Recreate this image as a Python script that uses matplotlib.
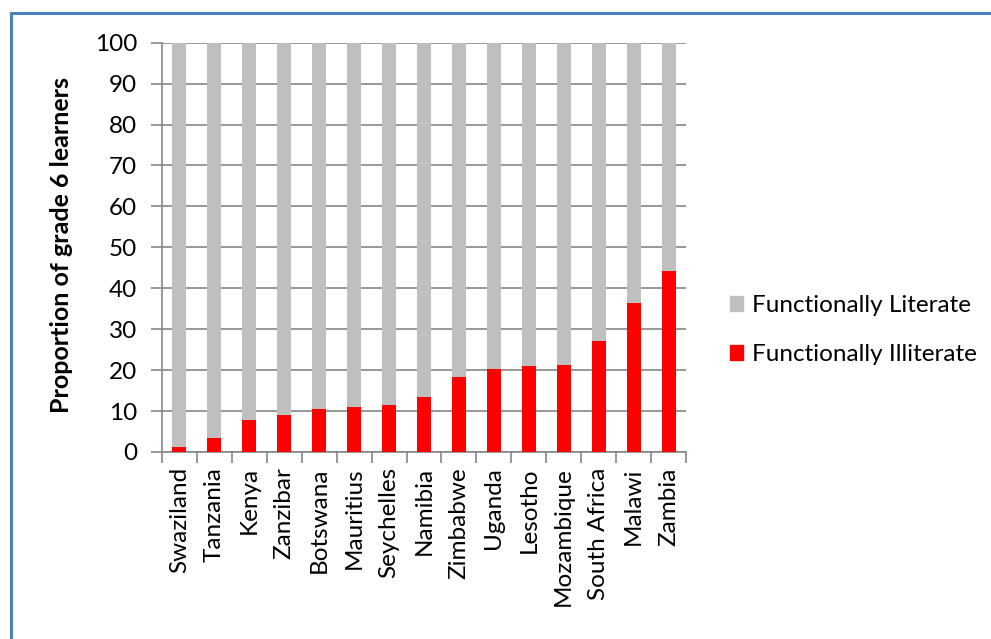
import numpy as np
from matplotlib import pyplot as plt
from matplotlib.lines import Line2D
from matplotlib.patches import Patch

countries = ['Swaziland', 'Tanzania', 'Kenya', 'Zanzibar', 'Botswana', 'Mauritius',
             'Seychelles', 'Namibia', 'Zimbabwe', 'Uganda', 'Lesotho', 'Mozambique',
             'South Africa', 'Malawi', 'Zambia']
illiterate = [1.2, 3.4, 7.8, 9.0, 10.5, 11.0, 11.6, 13.5, 18.3, 20.2, 21.0, 21.3, 27.2, 36.5, 44.1]
literate = [100 - v for v in illiterate]

plt.rcParams['font.family'] = ['Lato', 'DejaVu Sans']

W, H = 991, 639
fig = plt.figure(figsize=(W / 100, H / 100), dpi=100)
ax = fig.add_axes([162 / W, 1 - 452 / H, (686 - 162) / W, (452 - 42.7) / H])

x = np.arange(len(countries))
ax.bar(x, illiterate, width=0.4, color='#FF0000', zorder=3)
ax.bar(x, literate, width=0.4, bottom=illiterate, color='#BFBFBF', zorder=3)

ax.set_xlim(-0.5, len(countries) - 0.5)
ax.set_ylim(0, 100)
ax.set_yticks(range(0, 101, 10))
ax.yaxis.grid(True, color='#868686', linewidth=1.2, zorder=0)
ax.tick_params(axis='y', length=8, width=1.2, color='#868686', labelsize=17.5, pad=10)

ax.set_xticks(x)
ax.set_xticklabels(countries, rotation=90, fontsize=17.5)
ax.tick_params(axis='x', which='major', length=0, pad=11)
ax.set_xticks(np.arange(-0.5, len(countries), 1), minor=True)
ax.tick_params(axis='x', which='minor', length=8, width=1.2, color='#868686')

for side in ['top', 'right']:
    ax.spines[side].set_visible(False)
for side in ['left', 'bottom']:
    ax.spines[side].set_color('#868686')
    ax.spines[side].set_linewidth(1.2)

ax.set_ylabel('Proportion of grade 6 learners', fontsize=18, fontweight='bold')
ax.yaxis.set_label_coords((73 - 162) / 524, 0.506)

handles = [Patch(color='#BFBFBF'), Patch(color='#FF0000')]
fig.legend(handles, ['Functionally Literate', 'Functionally Illiterate'],
           loc='center left', bbox_to_anchor=(708 / W, 1 - 330 / H), frameon=False,
           fontsize=17.5, handlelength=0.55, handleheight=0.55, handletextpad=0.35,
           labelspacing=1.15)

# frame around the chart
fig.add_artist(Line2D([11 / W, 1], [1 - 13 / H, 1 - 13 / H], color='#4F81BD', linewidth=2.2))
fig.add_artist(Line2D([11 / W, 11 / W], [0, 1 - 13 / H], color='#4F81BD', linewidth=2.2))

fig.savefig('out.png', dpi=100)
